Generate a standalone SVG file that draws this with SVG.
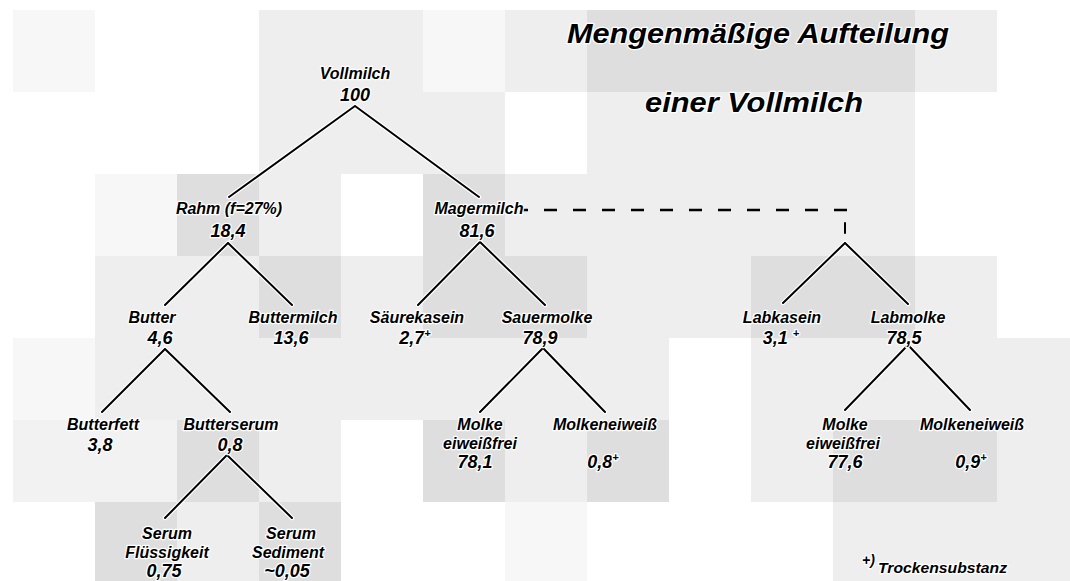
<svg xmlns="http://www.w3.org/2000/svg" width="1070" height="581" viewBox="0 0 1070 581">
  <style>
    .v { fill: #f7f7f7; }
    .f { fill: #f2f2f2; }
    .l { fill: #eeeeee; }
    .d { fill: #dedede; }
    text { font-family: "Liberation Sans", Arial, sans-serif; font-style: italic; font-weight: bold; fill: #000; text-anchor: middle; paint-order: stroke; stroke: #fff; stroke-width: 2.5px; stroke-linejoin: round; }
    .lbl { font-size: 16px; }
    .val { font-size: 18px; }
    .sup { font-size: 11px; }
    .title { font-size: 28px; text-anchor: start; }
    .note { font-size: 14px; text-anchor: start; }
    .halo { stroke: #fff; stroke-width: 4.5; fill: none; stroke-linecap: round; }
    .edge { stroke: #000; stroke-width: 2; fill: none; stroke-linecap: round; }
    .dash { stroke: #000; stroke-width: 2.5; fill: none; stroke-dasharray: 13 16; }
  </style>

  <!-- shaded background tiles -->
  <g id="background">
    <rect width="1070" height="581" fill="#fff"/>
    <!-- row 0 -->
    <rect class="v" x="13" y="10" width="82" height="82"/>
    <rect class="l" x="259" y="10" width="164" height="82"/>
    <rect class="v" x="423" y="10" width="82" height="82"/>
    <rect class="l" x="505" y="10" width="82" height="82"/>
    <rect class="d" x="587" y="10" width="328" height="82"/>
    <rect class="l" x="915" y="10" width="82" height="82"/>
    <!-- row 1 -->
    <rect class="l" x="259" y="92" width="246" height="82"/>
    <rect class="l" x="587" y="92" width="328" height="82"/>
    <!-- row 2 -->
    <rect class="v" x="95" y="174" width="82" height="82"/>
    <rect class="d" x="177" y="174" width="82" height="82"/>
    <rect class="l" x="259" y="174" width="82" height="82"/>
    <rect class="d" x="423" y="174" width="82" height="82"/>
    <rect class="l" x="505" y="174" width="410" height="82"/>
    <!-- row 3 -->
    <rect class="l" x="95" y="256" width="164" height="82"/>
    <rect class="d" x="259" y="256" width="82" height="82"/>
    <rect class="l" x="341" y="256" width="82" height="82"/>
    <rect class="d" x="423" y="256" width="164" height="82"/>
    <rect class="l" x="587" y="256" width="164" height="82"/>
    <rect class="d" x="751" y="256" width="164" height="82"/>
    <rect class="l" x="915" y="256" width="82" height="82"/>
    <!-- row 4 -->
    <rect class="v" x="13" y="338" width="82" height="82"/>
    <rect class="l" x="95" y="338" width="574" height="82"/>
    <rect class="l" x="751" y="338" width="319" height="82"/>
    <!-- row 5 -->
    <rect class="f" x="13" y="420" width="164" height="82"/>
    <rect class="d" x="177" y="420" width="82" height="82"/>
    <rect class="l" x="259" y="420" width="82" height="82"/>
    <rect class="d" x="423" y="420" width="82" height="82"/>
    <rect class="l" x="505" y="420" width="82" height="82"/>
    <rect class="d" x="587" y="420" width="82" height="82"/>
    <rect class="l" x="751" y="420" width="82" height="82"/>
    <rect class="d" x="833" y="420" width="164" height="82"/>
    <rect class="l" x="997" y="420" width="73" height="82"/>
    <!-- row 6 -->
    <rect class="d" x="95" y="502" width="82" height="79"/>
    <rect class="l" x="177" y="502" width="82" height="79"/>
    <rect class="d" x="259" y="502" width="82" height="79"/>
    <rect class="v" x="505" y="502" width="82" height="79"/>
    <rect class="l" x="833" y="502" width="237" height="79"/>
  </g>

  <!-- heading -->
  <g id="title">
    <text class="title" x="567" y="43" textLength="382" lengthAdjust="spacingAndGlyphs">Mengenmäßige Aufteilung</text>
    <text class="title" x="645" y="112" textLength="218" lengthAdjust="spacingAndGlyphs">einer Vollmilch</text>
  </g>

  <!-- branch lines -->
  <g id="connectors">
    <path class="halo" d="M355 106 L229 197 M355 106 L479 197 M228 243 L165 305 M228 243 L292 305 M480 242 L418 305 M480 242 L545 305 M845 243 L783 303 M845 243 L908 304 M165 349 L102 412 M165 349 L230 412 M543 348 L480 412 M543 348 L605 412 M908 345 L845 410 M908 345 L970 410 M227 455 L165 518 M227 455 L292 518"/>
    <path class="edge" d="M355 106 L229 197 M355 106 L479 197 M228 243 L165 305 M228 243 L292 305 M480 242 L418 305 M480 242 L545 305 M845 243 L783 303 M845 243 L908 304 M165 349 L102 412 M165 349 L230 412 M543 348 L480 412 M543 348 L605 412 M908 345 L845 410 M908 345 L970 410 M227 455 L165 518 M227 455 L292 518"/>
    <line class="dash" x1="847" y1="210" x2="520" y2="210"/>
    <line class="edge" x1="845" y1="223" x2="845" y2="233" stroke-width="2.5"/>
  </g>

  <g id="vollmilch">
    <text class="lbl" x="355" y="79">Vollmilch</text>
    <text class="val" x="355" y="101">100</text>
  </g>
  <g id="rahm">
    <text class="lbl" x="229" y="214">Rahm (f=27%)</text>
    <text class="val" x="228" y="237">18,4</text>
  </g>
  <g id="magermilch">
    <text class="lbl" x="479" y="214">Magermilch</text>
    <text class="val" x="477" y="237">81,6</text>
  </g>
  <g id="butter">
    <text class="lbl" x="152" y="323">Butter</text>
    <text class="val" x="160" y="344">4,6</text>
  </g>
  <g id="buttermilch">
    <text class="lbl" x="293" y="323">Buttermilch</text>
    <text class="val" x="291" y="344">13,6</text>
  </g>
  <g id="saeurekasein">
    <text class="lbl" x="417" y="323">Säurekasein</text>
    <text class="val" x="415" y="344">2,7<tspan class="sup" dy="-7">+</tspan></text>
  </g>
  <g id="sauermolke">
    <text class="lbl" x="547" y="323">Sauermolke</text>
    <text class="val" x="540" y="344">78,9</text>
  </g>
  <g id="labkasein">
    <text class="lbl" x="782" y="323">Labkasein</text>
    <text class="val" x="781" y="344">3,1 <tspan class="sup" dy="-7">+</tspan></text>
  </g>
  <g id="labmolke">
    <text class="lbl" x="908" y="323">Labmolke</text>
    <text class="val" x="904" y="344">78,5</text>
  </g>
  <g id="butterfett">
    <text class="lbl" x="103" y="430">Butterfett</text>
    <text class="val" x="100" y="451">3,8</text>
  </g>
  <g id="butterserum">
    <text class="lbl" x="231" y="430">Butterserum</text>
    <text class="val" x="230" y="451">0,8</text>
  </g>
  <g id="sauermolke-eiweissfrei">
    <text class="lbl" x="480" y="430">Molke</text>
    <text class="lbl" x="480" y="449">eiweißfrei</text>
    <text class="val" x="475" y="468">78,1</text>
  </g>
  <g id="sauermolke-eiweiss">
    <text class="lbl" x="605" y="430">Molkeneiweiß</text>
    <text class="val" x="603" y="468">0,8<tspan class="sup" dy="-7">+</tspan></text>
  </g>
  <g id="labmolke-eiweissfrei">
    <text class="lbl" x="845" y="430">Molke</text>
    <text class="lbl" x="843" y="449">eiweißfrei</text>
    <text class="val" x="845" y="468">77,6</text>
  </g>
  <g id="labmolke-eiweiss">
    <text class="lbl" x="972" y="430">Molkeneiweiß</text>
    <text class="val" x="971" y="468">0,9<tspan class="sup" dy="-7">+</tspan></text>
  </g>
  <g id="serum-fluessigkeit">
    <text class="lbl" x="167" y="539">Serum</text>
    <text class="lbl" x="167" y="558">Flüssigkeit</text>
    <text class="val" x="164" y="577">0,75</text>
  </g>
  <g id="serum-sediment">
    <text class="lbl" x="291" y="539">Serum</text>
    <text class="lbl" x="288" y="558">Sediment</text>
    <text class="val" x="287" y="577">~0,05</text>
  </g>

  <!-- footnote -->
  <g id="footnote">
    <text class="note" x="862" y="565" font-size="12">+)</text>
    <text class="note" x="878" y="573" textLength="129" lengthAdjust="spacingAndGlyphs">Trockensubstanz</text>
  </g>
</svg>
